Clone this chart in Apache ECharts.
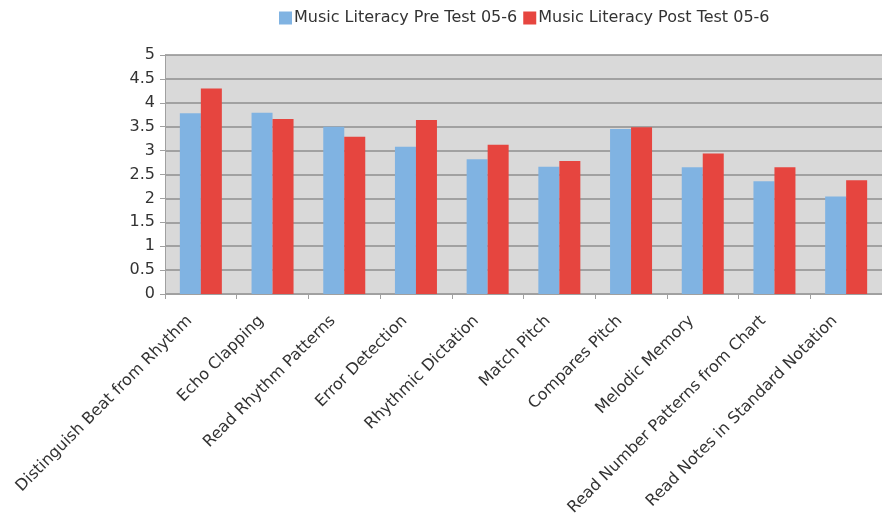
<!DOCTYPE html>
<html>
<head>
<meta charset="utf-8">
<script src="https://cdn.jsdelivr.net/npm/echarts@6/dist/echarts.min.js"></script>
<style>
  html, body { margin: 0; padding: 0; background: #fff; }
  #chart { width: 882px; height: 523px; }
</style>
</head>
<body>
<div id="chart"></div>
<script>
// Skill areas assessed
const categories = [
  'Distinguish Beat from Rhythm',
  'Echo Clapping',
  'Read Rhythm Patterns',
  'Error Detection',
  'Rhythmic Dictation',
  'Match Pitch',
  'Compares Pitch',
  'Melodic Memory',
  'Read Number Patterns from Chart',
  'Read Notes in Standard Notation'
];

// Average scores
const preTest = [3.78, 3.79, 3.50, 3.08, 2.82, 2.66, 3.45, 2.65, 2.36, 2.04];
const postTest = [4.30, 3.66, 3.29, 3.64, 3.12, 2.78, 3.49, 2.94, 2.65, 2.38];

const seriesNames = ['Music Literacy Pre Test 05-6', 'Music Literacy Post Test 05-6'];

const font = '"DejaVu Sans", Verdana, sans-serif';

const chart = echarts.init(document.getElementById('chart'), null, { renderer: 'canvas' });

chart.setOption({
  animation: false,
  backgroundColor: '#ffffff',
  textStyle: { fontFamily: font },
  legend: {
    top: 5,
    left: 274,
    itemWidth: 13,
    itemHeight: 13,
    itemGap: 6,
    icon: 'rect',
    textStyle: { fontSize: 16, color: '#333333', fontFamily: font, padding: [0, 0, 0, -3] },
    data: seriesNames
  },
  grid: {
    left: 165,
    top: 55,
    width: 722,
    height: 239,
    backgroundColor: '#d9d9d9',
    show: true,
    borderWidth: 0
  },
  xAxis: {
    type: 'category',
    data: categories,
    axisLine: { lineStyle: { color: '#a0a0a0', width: 1 } },
    axisTick: { show: true, length: 5, lineStyle: { color: '#a0a0a0' } },
    axisLabel: {
      rotate: 45,
      interval: 0,
      fontSize: 16,
      color: '#333333',
      fontFamily: font,
      margin: 13,
      padding: [0, 16, 0, 0]
    }
  },
  yAxis: {
    type: 'value',
    min: 0,
    max: 5,
    interval: 0.5,
    axisLine: { show: true, lineStyle: { color: '#a0a0a0', width: 1 } },
    axisTick: { show: true, length: 5, lineStyle: { color: '#a0a0a0' } },
    axisLabel: { fontSize: 16, color: '#333333', fontFamily: font, margin: 10 },
    splitLine: { show: true, lineStyle: { color: '#8e8e8e', width: 1.5 } }
  },
  series: [
    {
      name: seriesNames[0],
      type: 'bar',
      data: preTest,
      barWidth: 21,
      barGap: '0%',
      itemStyle: { color: '#80b3e2' }
    },
    {
      name: seriesNames[1],
      type: 'bar',
      data: postTest,
      barWidth: 21,
      itemStyle: { color: '#e6453f' }
    }
  ]
});
</script>
</body>
</html>
